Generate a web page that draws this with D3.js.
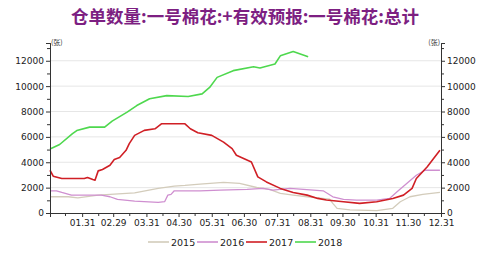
<!DOCTYPE html>
<html lang="zh">
<head>
<meta charset="UTF-8">
<title>仓单数量</title>
<script src="https://d3js.org/d3.v7.min.js"></script>
<style>
  body { margin: 0; background: #fff; }
  text { font-family: "DejaVu Sans", sans-serif; }
</style>
</head>
<body>
<svg id="chart" width="500" height="254"></svg>
<script>
// values, dates are MM-DD on a leap-year axis
var series2015 = [
  ["01-01", 1280], ["01-18", 1280], ["01-27", 1200], ["02-15", 1410], ["03-01", 1490],
  ["03-20", 1590], ["04-11", 1940], ["04-26", 2120], ["05-06", 2170], ["05-20", 2270],
  ["06-11", 2410], ["06-26", 2330], ["07-12", 2010], ["07-24", 1860], ["08-03", 1540],
  ["08-15", 1410], ["08-28", 1280], ["09-07", 1200], ["09-18", 1100], ["09-21", 760],
  ["09-25", 370], ["10-07", 240], ["11-01", 180], ["11-16", 370], ["11-23", 890],
  ["12-02", 1280], ["12-14", 1470], ["12-30", 1620]
];
var series2016 = [
  ["01-01", 1750], ["01-07", 1750], ["01-12", 1620], ["01-21", 1410], ["02-18", 1410],
  ["02-26", 1280], ["03-04", 1070], ["03-20", 940], ["04-11", 840], ["04-17", 890],
  ["04-20", 1410], ["04-23", 1470], ["04-26", 1750], ["05-20", 1750], ["06-08", 1800],
  ["07-03", 1860], ["07-18", 1940], ["07-27", 1800], ["08-12", 1940], ["09-03", 1800],
  ["09-12", 1750], ["09-21", 1280], ["10-01", 1070], ["10-13", 1020], ["11-01", 1020],
  ["11-13", 1150], ["11-20", 1670], ["11-29", 2330], ["12-08", 2980], ["12-16", 3370],
  ["12-30", 3370]
];
var series2017 = [
  ["01-01", 3370], ["01-04", 2900], ["01-12", 2720], ["02-02", 2720], ["02-05", 2800],
  ["02-10", 2640], ["02-12", 2590], ["02-15", 3320], ["02-19", 3430], ["02-26", 3760],
  ["03-01", 4210], ["03-06", 4370], ["03-12", 4940], ["03-15", 5470], ["03-20", 6120],
  ["03-29", 6510], ["04-08", 6640], ["04-14", 7030], ["05-06", 7030], ["05-11", 6640],
  ["05-18", 6330], ["05-31", 6120], ["06-11", 5590], ["06-19", 5070], ["06-23", 4550],
  ["07-07", 4020], ["07-13", 2850], ["07-21", 2450], ["08-03", 1940], ["08-15", 1620],
  ["08-28", 1410], ["09-07", 1150], ["09-15", 1020], ["10-01", 890], ["10-16", 760],
  ["11-01", 890], ["11-16", 1150], ["11-26", 1410], ["12-04", 1940], ["12-08", 2720],
  ["12-18", 3630], ["12-30", 4950]
];
var series2018 = [
  ["01-01", 5050], ["01-10", 5400], ["01-22", 6250], ["01-26", 6500], ["02-07", 6770],
  ["02-21", 6770], ["02-28", 7240], ["03-13", 7950], ["03-22", 8470], ["04-03", 9000],
  ["04-19", 9250], ["05-09", 9180], ["05-22", 9390], ["05-29", 9900], ["06-05", 10690],
  ["06-20", 11220], ["07-09", 11530], ["07-15", 11430], ["07-29", 11740], ["08-03", 12390],
  ["08-15", 12730], ["08-21", 12550], ["08-29", 12310]
];
var seriesNames = ["2015", "2016", "2017", "2018"];
var seriesColors = ["#d3ccbb", "#cf8fd0", "#d01f25", "#4ed84e"];
var monthEnds = ["01-31", "02-29", "03-31", "04-30", "05-31", "06-30",
                 "07-31", "08-31", "09-30", "10-31", "11-30", "12-31"];
var yTicks = [0, 2000, 4000, 6000, 8000, 10000, 12000];
var titleText = "仓单数量:一号棉花:+有效预报:一号棉花:总计";
var unitText = "(张)";

var parse = d3.timeParse("%Y-%m-%d");
function day(s) { return parse("2016-" + s); }

var svg = d3.select("#chart");
// plot box (window.top is reserved, so no plain "top")
var plotL = 50, plotR = 441, plotT = 43, plotB = 213;

var x = d3.scaleTime()
  .domain([day("01-01"), day("12-31")])
  .range([plotL, plotR]);
var y = d3.scaleLinear()
  .domain([0, 13400])
  .range([plotB, plotT]);

// title
svg.append("text")
  .attr("x", 245).attr("y", 23)
  .attr("text-anchor", "middle")
  .style("font-family", "'Noto Sans CJK SC', sans-serif")
  .style("font-weight", "bold")
  .style("font-size", "17.5px")
  .attr("fill", "#7d1f82")
  .text(titleText);

// grid lines
svg.append("g")
  .selectAll("line")
  .data(yTicks.filter(function (d) { return d > 0; }))
  .enter().append("line")
  .attr("x1", plotL).attr("x2", plotR)
  .attr("y1", function (d) { return y(d); })
  .attr("y2", function (d) { return y(d); })
  .attr("stroke", "#e6e6e6")
  .attr("stroke-width", 1);

// lines
var line = d3.line()
  .x(function (d) { return x(day(d[0])); })
  .y(function (d) { return y(d[1]); });
var allSeries = [series2015, series2016, series2017, series2018];
var widths = [1.3, 1.3, 1.6, 1.6];
allSeries.forEach(function (s, i) {
  svg.append("path")
    .datum(s)
    .attr("d", line)
    .attr("fill", "none")
    .attr("stroke", seriesColors[i])
    .attr("stroke-width", widths[i])
    .attr("stroke-linejoin", "round");
});

// minor ticks every 1000
var minorY = d3.range(1000, 13001, 2000);
var numFmt = d3.format("d");

// left axis
var gl = svg.append("g")
  .attr("transform", "translate(" + plotL + ",0)")
  .call(d3.axisLeft(y).tickValues(yTicks).tickFormat(numFmt).tickSize(4).tickPadding(2));
gl.append("g").call(d3.axisLeft(y).tickValues(minorY).tickSize(3).tickFormat(""));

// right axis
var gr = svg.append("g")
  .attr("transform", "translate(" + plotR + ",0)")
  .call(d3.axisRight(y).tickValues(yTicks).tickFormat(numFmt).tickSize(4).tickPadding(2));
gr.append("g").call(d3.axisRight(y).tickValues(minorY).tickSize(3).tickFormat(""));

// x axis
var fmt = d3.timeFormat("%m.%d");
var gx = svg.append("g")
  .attr("transform", "translate(0," + plotB + ")")
  .call(d3.axisBottom(x).tickValues(monthEnds.map(day)).tickFormat(fmt).tickSize(4).tickPadding(3));
var midMonths = d3.range(1, 13).map(function (m) { return new Date(2016, m - 1, 15); });
gx.append("g").call(d3.axisBottom(x).tickValues(midMonths).tickSize(3).tickFormat(""));

svg.selectAll(".domain").attr("stroke", "#333");
svg.selectAll(".tick line").attr("stroke", "#333");
svg.selectAll(".tick text")
  .style("font-size", "9px")
  .style("font-family", "'DejaVu Sans', sans-serif")
  .attr("fill", "#222");

// unit labels
svg.selectAll(".unit")
  .data([[plotL + 1, "start"], [plotR - 1, "end"]])
  .enter().append("text")
  .attr("class", "unit")
  .attr("x", function (d) { return d[0]; })
  .attr("y", plotT + 2)
  .attr("text-anchor", function (d) { return d[1]; })
  .style("font-family", "'Noto Sans CJK SC', sans-serif")
  .style("font-size", "7px").attr("fill", "#333")
  .text(unitText);

// legend
var legend = svg.append("g").attr("transform", "translate(148,242)");
seriesNames.forEach(function (n, i) {
  var g = legend.append("g").attr("transform", "translate(" + (i * 49) + ",0)");
  g.append("line")
    .attr("x1", 0).attr("x2", 21).attr("y1", 0).attr("y2", 0)
    .attr("stroke", seriesColors[i]).attr("stroke-width", 1.6);
  g.append("text")
    .attr("x", 23).attr("y", 3.5)
    .style("font-size", "9.5px").attr("fill", "#222")
    .text(n);
});
</script>
</body>
</html>
